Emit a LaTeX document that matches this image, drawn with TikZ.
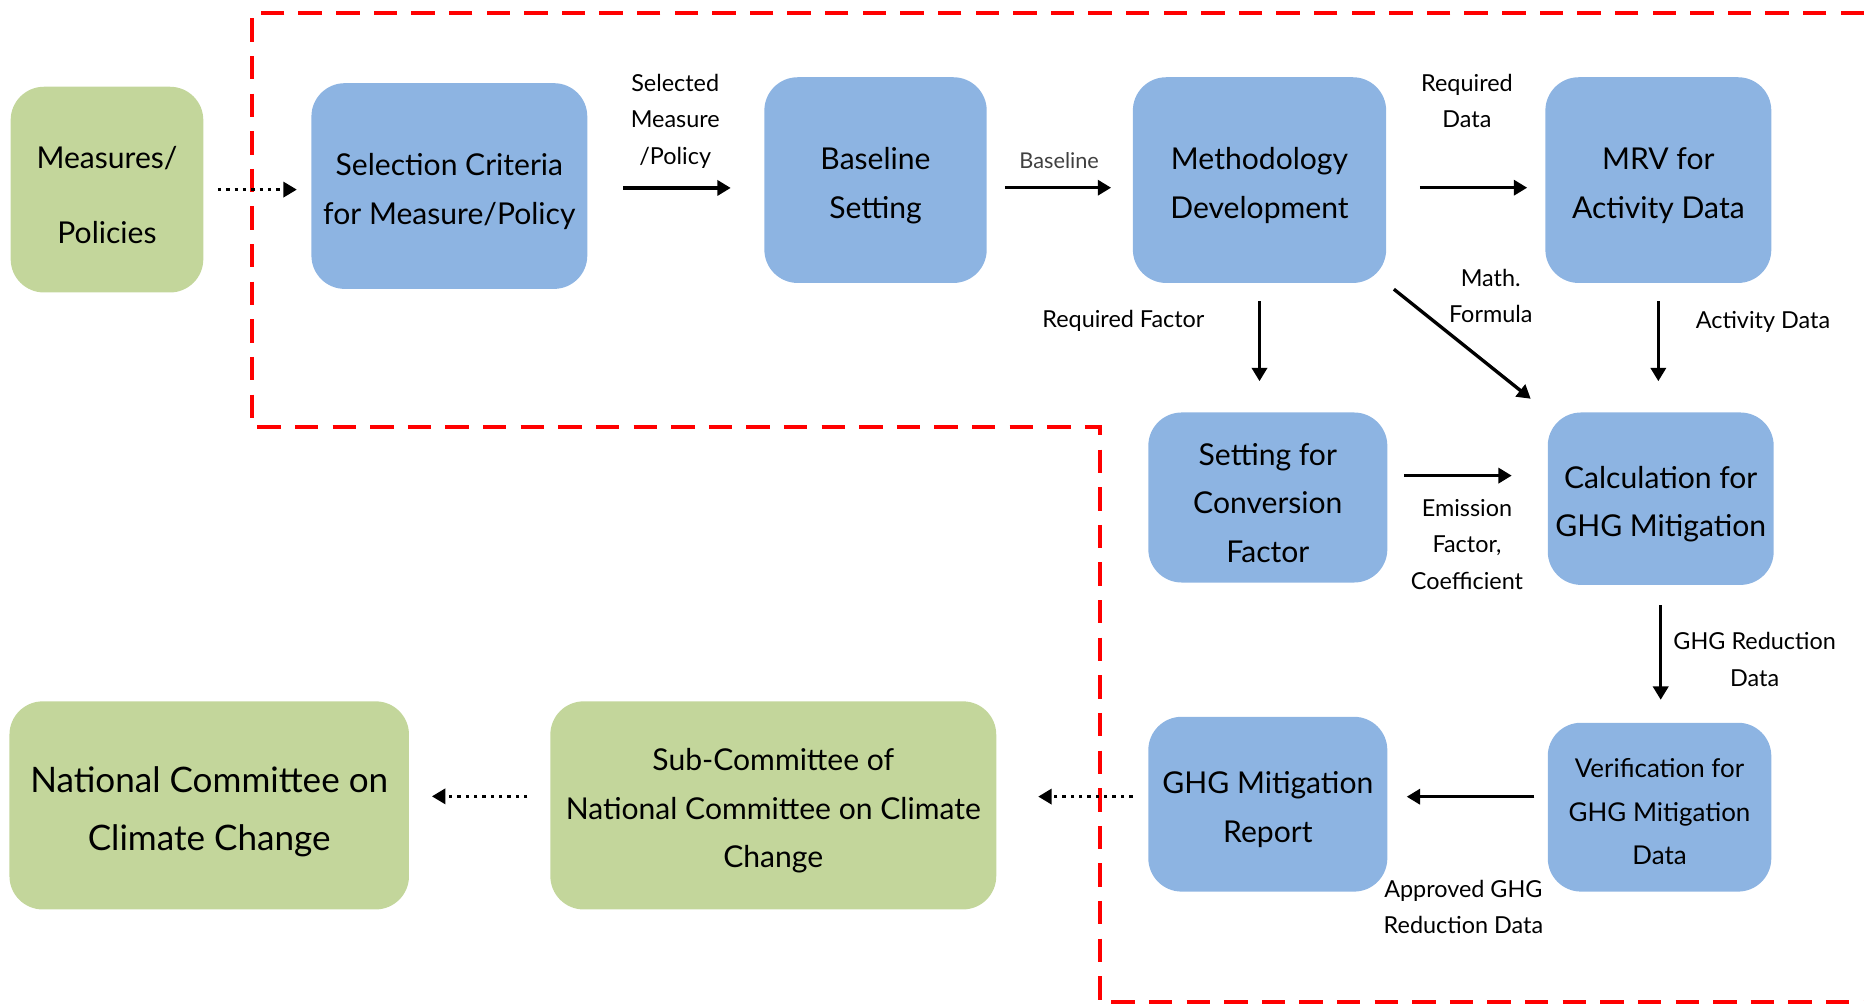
\documentclass[tikz,border=0pt]{standalone}
\usepackage{fontspec}
\setmainfont{Lato}
\usetikzlibrary{arrows.meta}
\definecolor{boxblue}{HTML}{8DB4E2}
\definecolor{boxgreen}{HTML}{C3D69B}
\definecolor{redline}{HTML}{FF0000}
\newcommand{\topgap}{\rule{0pt}{1.1em}}
\begin{document}
\begin{tikzpicture}[x=0.025cm,y=-0.025cm,
box/.style={rounded corners=0.7cm,inner sep=0pt,align=center,font=\fontsize{18}{29}\selectfont},
bluebox/.style={box,fill=boxblue},
greenbox/.style={box,fill=boxgreen},
lbl/.style={align=center,font=\fontsize{14}{22}\selectfont},
arr/.style={line width=2pt,-{Triangle[length=8pt,width=9pt]}},
dotarr/.style={line width=1.8pt,dash pattern=on 2pt off 3pt,-{Triangle[length=8pt,width=9pt]}},
frameline/.style={draw=redline,line width=2.5pt,dash pattern=on 14pt off 8.5pt}]
\useasboundingbox(0,0)rectangle(1568,845);
\draw[frameline](1568,11)--(212,11)--(212,359)--(925,359)--(925,843)--(1568,843);
\node[greenbox,minimum width=4.05cm,minimum height=4.325cm,font=\fontsize{18}{45}\selectfont](meas)at(90,159.5){\topgap Measures/\\Policies};
\node[bluebox,minimum width=5.8cm,minimum height=4.325cm](sel)at(378,156.5){\topgap Selection Criteria\\for Measure/Policy};
\node[bluebox,minimum width=4.675cm,minimum height=4.325cm](base)at(736.5,151.5){\topgap Baseline\\Setting};
\node[bluebox,minimum width=5.325cm,minimum height=4.325cm](meth)at(1059.5,151.5){\topgap Methodology\\Development};
\node[bluebox,minimum width=4.75cm,minimum height=4.325cm](mrv)at(1395,151.5){\topgap MRV for\\Activity Data};
\node[bluebox,minimum width=5.025cm,minimum height=3.575cm](conv)at(1066.5,418.5){\topgap Setting for\\Conversion\\Factor};
\node[bluebox,minimum width=4.75cm,minimum height=3.625cm](calc)at(1397,419.5){\topgap Calculation for\\GHG Mitigation};
\node[bluebox,minimum width=4.7cm,minimum height=3.55cm,font=\fontsize{15.5}{26}\selectfont](verif)at(1396,679){\topgap Verification for\\GHG Mitigation\\Data};
\node[bluebox,minimum width=5.025cm,minimum height=3.675cm](rep)at(1066.5,676.5){\topgap GHG Mitigation\\Report};
\node[greenbox,minimum width=9.375cm,minimum height=4.375cm](sub)at(650.5,677.5){\topgap Sub-Committee of\\National Committee on Climate\\Change};
\node[greenbox,minimum width=8.4cm,minimum height=4.375cm,font=\fontsize{21}{35}\selectfont](nat)at(176,677.5){\topgap National Committee on\\Climate Change};
\node[lbl](lsel)at(568,102){Selected\\Measure\\/Policy};
\node[lbl,font=\fontsize{13}{20}\selectfont,text=black!75](lbase)at(891,135){Baseline};
\node[lbl](lreq)at(1234,85){Required\\Data};
\node[lbl](lfac)at(945,270){Required Factor};
\node[lbl](lmath)at(1254,249){Math.\\Formula};
\node[lbl](lact)at(1483,271){Activity Data};
\node[lbl](lemi)at(1234,458){Emission\\Factor,\\Coefficient};
\node[lbl](lred)at(1476,554.5){GHG Reduction\\Data};
\node[lbl](lapp)at(1231,763){Approved GHG\\Reduction Data};
\draw[dotarr,shorten <=0.3cm,shorten >=0.3cm](meas.east)--(meas.east-|sel.west);
\draw[arr,shorten <=0.75cm,shorten >=0.7cm]([yshift=-0.04cm]sel.east)--([yshift=-0.04cm]sel.east-|base.west);
\draw[arr,shorten <=0.375cm,shorten >=0.45cm]([yshift=-0.16cm]base.east)--([yshift=-0.16cm]base.east-|meth.west);
\draw[arr,shorten <=0.7cm,shorten >=0.375cm]([yshift=-0.16cm]meth.east)--([yshift=-0.16cm]meth.east-|mrv.west);
\draw[arr,shorten <=0.375cm,shorten >=0.65cm](meth.south)--(meth.south|-conv.north);
\draw[arr,shorten <=0.2cm,shorten >=0.45cm](meth.south east)--(calc.north west);
\draw[arr,shorten <=0.375cm,shorten >=0.65cm](mrv.south)--(mrv.south|-calc.north);
\draw[arr,shorten <=0.35cm,shorten >=0.75cm]([yshift=0.46cm]conv.east)--([yshift=0.46cm]conv.east-|calc.west);
\draw[arr,shorten <=0.425cm,shorten >=0.475cm](calc.south)--(calc.south|-verif.north);
\draw[arr,shorten <=0.275cm,shorten >=0.4cm]([yshift=0.22cm]verif.west)--([yshift=0.22cm]verif.west-|rep.east);
\draw[dotarr,shorten <=0.325cm,shorten >=0.875cm]([yshift=0.16cm]rep.west)--([yshift=0.16cm]rep.west-|sub.east);
\draw[dotarr,shorten <=0.475cm,shorten >=0.475cm]([yshift=0.19cm]sub.west)--([yshift=0.19cm]sub.west-|nat.east);
\end{tikzpicture}
\end{document}
